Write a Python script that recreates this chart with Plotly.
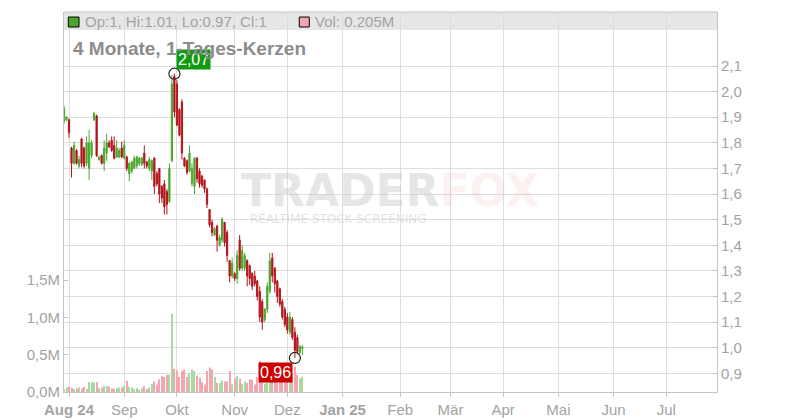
import numpy as np
import pandas as pd
import plotly.graph_objects as go

# ---------------- data ----------------
start_date = "2024-07-30"

opens = [1.885, 1.89, 1.89, 1.78, 1.72, 1.77, 1.71, 1.815, 1.78, 1.72,
         1.70, 1.75, 1.89, 1.905, 1.735, 1.75, 1.72, 1.76, 1.80, 1.81,
         1.79, 1.745, 1.745, 1.78, 1.74, 1.745, 1.68, 1.69, 1.70, 1.71,
         1.72, 1.715, 1.76, 1.725, 1.70, 1.69, 1.74, 1.68, 1.70, 1.63,
         1.64, 1.61, 1.57, 1.73, 2.06, 2.03, 1.93, 1.96, 1.74, 1.73,
         1.69, 1.64, 1.63, 1.74, 1.69, 1.67, 1.655, 1.62, 1.54, 1.49,
         1.44, 1.475, 1.40, 1.42, 1.49, 1.45, 1.34, 1.28, 1.29, 1.27,
         1.42, 1.31, 1.31, 1.34, 1.32, 1.29, 1.28, 1.26, 1.22, 1.18,
         1.11, 1.15, 1.22, 1.35, 1.31, 1.26, 1.23, 1.18, 1.15, 1.12,
         1.06, 1.11, 1.06, 1.04, 0.98, 0.997]
highs = [1.945, 1.905, 1.895, 1.785, 1.805, 1.775, 1.75, 1.82, 1.785, 1.825,
         1.85, 1.81, 1.92, 1.91, 1.75, 1.755, 1.81, 1.835, 1.81, 1.825,
         1.825, 1.81, 1.78, 1.805, 1.81, 1.75, 1.725, 1.73, 1.75, 1.75,
         1.745, 1.745, 1.79, 1.73, 1.745, 1.735, 1.745, 1.69, 1.70, 1.635,
         1.655, 1.62, 1.72, 2.065, 2.07, 2.045, 1.935, 1.97, 1.745, 1.735,
         1.79, 1.72, 1.745, 1.745, 1.70, 1.675, 1.655, 1.625, 1.54, 1.50,
         1.47, 1.48, 1.44, 1.51, 1.49, 1.46, 1.34, 1.35, 1.295, 1.38,
         1.44, 1.40, 1.37, 1.345, 1.325, 1.295, 1.30, 1.265, 1.24, 1.19,
         1.155, 1.255, 1.37, 1.37, 1.315, 1.265, 1.235, 1.19, 1.16, 1.135,
         1.14, 1.12, 1.08, 1.05, 1.01, 1.01]
lows = [1.875, 1.885, 1.82, 1.665, 1.715, 1.715, 1.70, 1.705, 1.70, 1.71,
        1.655, 1.74, 1.885, 1.745, 1.73, 1.715, 1.69, 1.73, 1.78, 1.765,
        1.735, 1.74, 1.74, 1.74, 1.735, 1.69, 1.65, 1.68, 1.70, 1.70,
        1.71, 1.71, 1.70, 1.70, 1.69, 1.655, 1.60, 1.63, 1.565, 1.565,
        1.52, 1.52, 1.565, 1.725, 1.90, 1.865, 1.825, 1.735, 1.705, 1.675,
        1.685, 1.63, 1.60, 1.645, 1.625, 1.625, 1.605, 1.545, 1.47, 1.435,
        1.435, 1.375, 1.395, 1.41, 1.395, 1.335, 1.255, 1.27, 1.26, 1.25,
        1.30, 1.30, 1.30, 1.24, 1.245, 1.225, 1.24, 1.185, 1.10, 1.07,
        1.10, 1.135, 1.21, 1.255, 1.215, 1.175, 1.16, 1.11, 1.08, 1.055,
        1.05, 1.03, 0.96, 0.975, 0.975, 0.97]
closes = [1.935, 1.90, 1.84, 1.72, 1.79, 1.72, 1.735, 1.72, 1.71, 1.80,
          1.80, 1.80, 1.915, 1.75, 1.745, 1.72, 1.78, 1.80, 1.785, 1.77,
          1.74, 1.78, 1.77, 1.745, 1.79, 1.70, 1.72, 1.725, 1.74, 1.745,
          1.74, 1.74, 1.72, 1.71, 1.735, 1.73, 1.63, 1.64, 1.60, 1.585,
          1.55, 1.56, 1.70, 2.03, 1.92, 1.87, 1.83, 1.76, 1.71, 1.685,
          1.76, 1.70, 1.74, 1.66, 1.64, 1.635, 1.62, 1.56, 1.48, 1.45,
          1.465, 1.42, 1.43, 1.50, 1.41, 1.36, 1.28, 1.33, 1.27, 1.36,
          1.31, 1.38, 1.36, 1.28, 1.27, 1.24, 1.25, 1.20, 1.12, 1.10,
          1.15, 1.24, 1.34, 1.28, 1.25, 1.20, 1.17, 1.12, 1.09, 1.07,
          1.12, 1.04, 0.99, 0.985, 1.005, 1.003]
volumes_m = [0.04, 0.06, 0.07, 0.06, 0.04, 0.05, 0.06, 0.05, 0.07, 0.04,
             0.135, 0.13, 0.125, 0.13, 0.05, 0.06, 0.08, 0.08, 0.07, 0.05,
             0.04, 0.05, 0.06, 0.06, 0.08, 0.15, 0.07, 0.06, 0.04, 0.05,
             0.03, 0.05, 0.08, 0.04, 0.06, 0.11, 0.14, 0.10, 0.17, 0.21,
             0.20, 0.23, 0.23, 1.045, 0.31, 0.29, 0.20, 0.28, 0.30, 0.20,
             0.25, 0.30, 0.28, 0.22, 0.19, 0.13, 0.10, 0.28, 0.33, 0.30,
             0.20, 0.12, 0.12, 0.15, 0.14, 0.14, 0.28, 0.10, 0.18, 0.21,
             0.18, 0.11, 0.14, 0.12, 0.17, 0.16, 0.10, 0.20, 0.42, 0.25,
             0.11, 0.25, 0.29, 0.25, 0.20, 0.27, 0.23, 0.29, 0.25, 0.27,
             0.20, 0.25, 0.34, 0.23, 0.18, 0.205]

month_ticks = ["2024-08-01", "2024-09-02", "2024-10-01", "2024-11-01", "2024-12-02",
               "2025-01-01", "2025-02-03", "2025-03-03", "2025-04-01", "2025-05-01",
               "2025-06-02", "2025-07-01"]
month_labels = ["<b>Aug 24</b>", "Sep", "Okt", "Nov", "Dez", "<b>Jan 25</b>",
                "Feb", "Mär", "Apr", "Mai", "Jun", "Jul"]
price_ticks = [0.9, 1.0, 1.1, 1.2, 1.3, 1.4, 1.5, 1.6, 1.7, 1.8, 1.9, 2.0, 2.1]
volume_ticks = [0.0, 0.5, 1.0, 1.5]
volume_labels = ["0,0M", "0,5M", "1,0M", "1,5M"]

title_text = "4 Monate, 1-Tages-Kerzen"
ohlc_text = "Op:1, Hi:1.01, Lo:0.97, Cl:1"
vol_text = "Vol: 0.205M"

# ---------------- styling ----------------
GREEN = "#4aa82e"
RED = "#b3141b"
VGREEN = "#a8d99f"
VRED = "#f2a7b0"
GRID = "#dedede"
AXIS = "#c4c4c4"
TXT = "#a3a3a3"
FONT = "Liberation Sans, Arial, sans-serif"

dates = pd.bdate_range(start_date, periods=len(closes))
vol_colors = [VGREEN if c >= o else VRED for o, c in zip(opens, closes)]

i_max = int(np.argmax(highs))
i_min = int(np.argmin(lows))

fig = go.Figure()

fig.add_trace(go.Bar(
    x=dates, y=volumes_m, yaxis="y", marker=dict(color=vol_colors, line=dict(width=0)),
    width=0.4 * 86400000, hoverinfo="skip"))

fig.add_trace(go.Candlestick(
    x=dates, open=opens, high=highs, low=lows, close=closes, yaxis="y2",
    increasing=dict(line=dict(color=GREEN, width=1), fillcolor=GREEN),
    decreasing=dict(line=dict(color=RED, width=1), fillcolor=RED),
    whiskerwidth=0))

fig.add_trace(go.Scatter(
    x=[dates[i_max], dates[i_min]], y=[highs[i_max], lows[i_min]], yaxis="y2",
    mode="markers", marker=dict(symbol="circle-open", size=11, color="#222222",
                                line=dict(width=1.2)), hoverinfo="skip"))

def fmt(v):
    return f"{v:.2f}".replace(".", ",")

annotations = [
    dict(x=dates[i_max], y=highs[i_max], xref="x", yref="y2", text=fmt(highs[i_max]),
         showarrow=False, xanchor="left", yanchor="bottom", xshift=2, yshift=4,
         bgcolor="#0f9a0f", font=dict(color="white", size=16, family=FONT), borderpad=1),
    dict(x=dates[i_min], y=lows[i_min], xref="x", yref="y2", text=fmt(lows[i_min]),
         showarrow=False, xanchor="right", yanchor="top", xshift=-2, yshift=-4,
         bgcolor="#cc0000", font=dict(color="white", size=16, family=FONT), borderpad=1),
    dict(x=0.011, y=0.905, xref="paper", yref="paper", text="<b>" + title_text + "</b>",
         showarrow=False, xanchor="left", yanchor="middle",
         font=dict(size=19, color="#8c8c8c", family=FONT)),
    dict(x=0.029, y=0.975, xref="paper", yref="paper", text=ohlc_text,
         showarrow=False, xanchor="left", yanchor="middle",
         font=dict(size=15, color=TXT, family=FONT)),
    dict(x=0.382, y=0.975, xref="paper", yref="paper", text=vol_text,
         showarrow=False, xanchor="left", yanchor="middle",
         font=dict(size=15, color=TXT, family=FONT)),
    dict(x=0.499, y=0.529, xref="paper", yref="paper",
         text="<b>TRADER<span style='color:rgba(246,140,140,0.33)'>FOX</span></b>",
         showarrow=False, xanchor="center", yanchor="middle",
         font=dict(size=44, color="rgba(190,190,190,0.38)", family="DejaVu Sans")),
    dict(x=0.42, y=0.455, xref="paper", yref="paper", text="REALTIME STOCK SCREENING",
         showarrow=False, xanchor="center", yanchor="middle",
         font=dict(size=12, color="rgba(190,190,190,0.45)", family="DejaVu Sans")),
]

shapes = [
    dict(type="rect", xref="paper", yref="paper", x0=0, x1=1, y0=0.9526, y1=1,
         fillcolor="#e6e6e6", line=dict(width=0), layer="below"),
    dict(type="line", xref="paper", yref="paper", x0=0, x1=1, y0=1, y1=1,
         line=dict(color=AXIS, width=1)),
    dict(type="rect", xref="paper", yref="paper", x0=0.0066, x1=0.0230, y0=0.9605, y1=0.9868,
         fillcolor=GREEN, line=dict(color="black", width=1)),
    dict(type="rect", xref="paper", yref="paper", x0=0.3603, x1=0.3756, y0=0.9605, y1=0.9868,
         fillcolor=VRED, line=dict(color="black", width=1)),
]

# the page adds an 8px body margin, so the figure is 8px smaller and margins shifted
fig.update_layout(
    width=792, height=412,
    margin=dict(l=56, r=83, t=4, b=28, autoexpand=False),
    paper_bgcolor="white", plot_bgcolor="white",
    template="none", showlegend=False, separators=",.",
    font=dict(family=FONT, size=15, color=TXT),
    annotations=annotations, shapes=shapes,
    xaxis=dict(type="date", range=["2024-07-30 00:00", "2025-07-29 05:00"],
               rangebreaks=[dict(bounds=["sat", "mon"])],
               tickvals=month_ticks, ticktext=month_labels,
               showgrid=True, gridcolor=GRID, gridwidth=1,
               showline=True, linecolor=AXIS, linewidth=1,
               ticks="outside", ticklen=4, tickcolor=AXIS,
               rangeslider=dict(visible=False), zeroline=False,
               tickfont=dict(size=15, color=TXT)),
    yaxis=dict(range=[0, 5.094], side="left", tickvals=volume_ticks,
               ticktext=volume_labels, showgrid=False,
               showline=True, linecolor=AXIS, linewidth=1,
               ticks="inside", ticklen=4, tickcolor=AXIS, zeroline=False,
               tickfont=dict(size=15, color=TXT)),
    yaxis2=dict(overlaying="y", side="right", range=[0.827, 2.311],
                tickvals=price_ticks, tickformat=".1f",
                showgrid=True, gridcolor=GRID, gridwidth=1,
                showline=True, linecolor=AXIS, linewidth=1,
                ticks="inside", ticklen=4, tickcolor=AXIS, zeroline=False,
                tickfont=dict(size=15, color=TXT)),
)

fig.write_html("out.html")
